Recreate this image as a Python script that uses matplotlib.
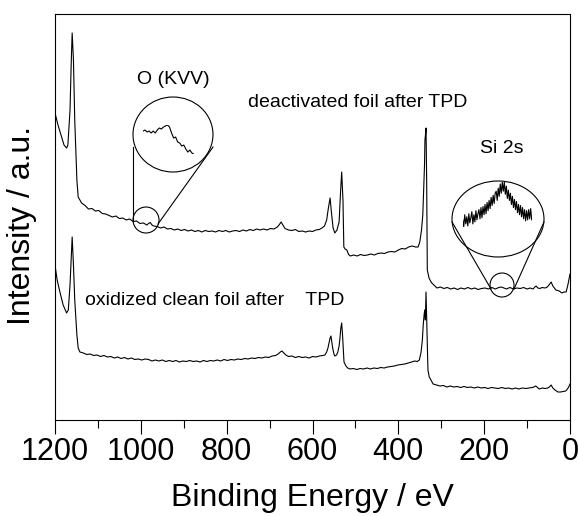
import matplotlib
matplotlib.use('Agg')
import matplotlib.pyplot as plt
from matplotlib.patches import Ellipse
from matplotlib.lines import Line2D
from matplotlib.ticker import MultipleLocator

plt.rcParams['font.family'] = ['Liberation Sans', 'DejaVu Sans']

# ---------------- data (binding energy / eV, intensity / a.u.) ----------------
# deactivated foil after TPD
upper_ev = [1200, 1193, 1184, 1179, 1173, 1170, 1165, 1162, 1160, 1157, 1154, 1149, 1146,
            1138, 1130, 1122, 1114, 1106, 1098, 1090, 1082, 1074, 1066, 1058, 1050, 1042,
            1034, 1026, 1018, 1010, 1002, 994, 986, 982, 978, 974, 970, 962, 954, 946, 938,
            930, 922, 914, 906, 898, 890, 882, 874, 866, 858, 850, 842, 834, 826, 818, 810,
            802, 794, 786, 778, 770, 762, 754, 746, 738, 730, 722, 714, 706, 698, 690,
            682, 678, 673, 669, 664, 656, 648, 640, 632, 624, 616, 608, 600, 592, 584, 578,
            572, 567, 563, 559, 556, 552, 548, 543, 538, 535, 532, 529, 527, 524, 520, 516,
            512, 504, 496, 488, 480, 472, 464, 456, 448, 440, 432, 424, 416, 408, 400, 392,
            384, 376, 368, 360, 354, 350, 346, 343, 341, 339, 338, 336.5, 335.5, 334, 332.5,
            330, 328.5, 325, 322, 316, 310, 302, 294, 286, 278, 270, 262, 254, 246, 238, 230,
            222, 214, 206, 198, 190, 182, 174, 166, 160, 154, 148, 140, 132, 124, 116, 108,
            100, 93, 86, 82, 79, 75, 70, 65, 58, 53, 49, 44, 40, 33, 25, 19, 14, 9, 5, 0]
upper_int = [307, 295, 282, 275, 272, 275, 310, 360, 387, 360, 300, 240, 223,
             217, 214.5, 211, 211.5, 209, 209.5, 206.5, 206, 204.5, 203, 204, 201.5, 202,
             200, 201, 198.5, 199, 196.5, 197, 195, 196.5, 197.5, 195, 194, 193.5, 192, 193, 191,
             191.5, 190, 191, 189.5, 190.5, 189, 190, 188.5, 189.5, 188, 189.5, 188.5, 189, 188, 189.5, 188.5,
             189.5, 188, 189, 189.5, 188.5, 190, 189, 190.5, 189.5, 191, 190, 191, 190, 191.5, 191,
             193, 195, 198, 195, 191.5, 190, 189.5, 190.5, 188.5, 189, 188, 189, 188.5, 190, 190.5, 192,
             194, 200, 212, 222, 208, 192, 187, 190, 198, 225, 248, 220, 173, 171, 170, 165.5,
             164, 165, 164, 165.5, 164.5, 165, 166, 165, 166.5, 167, 166.5, 168, 168.5, 168, 170, 171.5,
             171, 173, 174, 173, 173, 178, 190, 205, 230, 255, 280, 286, 292, 240, 150,
             145, 142, 139, 137, 134.5, 132, 133, 131.5, 132.5, 131, 132, 130.5, 132, 131, 132.5, 131,
             132, 130.5, 131.5, 132, 131, 132.5, 131, 132.5, 133, 132, 131, 132.5, 131, 132, 131.5, 132.5,
             131, 132, 131, 133, 134, 132, 131.5, 132.5, 132, 133, 135, 138, 134, 130, 129, 127, 128, 128, 135, 146]

# oxidized clean foil after TPD
lower_ev = [1200, 1195, 1188, 1181, 1173, 1169, 1165, 1162, 1160, 1157, 1154, 1149, 1146,
            1142, 1134, 1126, 1118, 1110, 1102, 1094, 1086, 1078, 1070, 1062, 1054, 1046, 1038,
            1030, 1022, 1014, 1006, 998, 990, 982, 974, 966, 958, 950, 942, 934, 926, 918, 910,
            902, 894, 886, 878, 870, 862, 854, 846, 838, 830, 822, 814, 806, 798, 790, 782,
            774, 766, 758, 750, 742, 734, 726, 718, 710, 702, 694, 686, 680, 675, 671, 667,
            662, 656, 648, 640, 632, 624, 616, 608, 600, 592, 584, 576, 571, 567, 564, 561,
            559, 557, 555, 553, 550, 548, 544, 541, 538, 536, 534, 532, 530, 528, 526.6, 522,
            518, 513, 505, 497, 489, 481, 473, 465, 457, 449, 441, 433, 425, 417, 409, 401,
            393, 385, 377, 369, 362, 356, 351, 347, 344, 342, 340, 338.5, 337, 335.5, 334, 333,
            331, 328, 324, 319, 311, 303, 295, 287, 279, 271, 263, 255, 247, 239, 231, 223,
            215, 207, 199, 191, 183, 175, 167, 159, 151, 143, 135, 127, 119, 111, 103, 95,
            88, 84, 80, 77, 72, 64, 58, 52, 48, 44, 40, 35, 28, 22, 16, 10, 6, 3, 0]
lower_int = [155, 140, 127, 115, 107, 110, 135, 165, 183, 155, 120, 85, 72,
             68, 67, 65.5, 66, 64.5, 65, 63.5, 64.5, 63, 63.5, 62, 63, 61.5, 62.5,
             61, 62, 60.5, 61, 60, 61, 60.5, 59, 60, 59, 60, 58.5, 59.5, 58.5, 59.5, 58,
             59, 58.5, 59.5, 58.5, 59, 58, 59.5, 58.5, 59.5, 59, 60, 59, 60.5, 59.5, 60.5, 60,
             61, 60.5, 61.5, 61, 62, 61.5, 62.5, 62, 63, 62.5, 64, 64.5, 66, 68, 69, 67,
             65, 63.5, 64, 62.5, 63.5, 62.5, 63, 62, 63.5, 63, 64, 64.5, 65, 68, 72, 78,
             82, 84, 78, 72, 66, 64, 65, 68, 74, 82, 92, 97, 85, 68, 58, 54,
             52, 51, 51.5, 50.5, 51.5, 51, 52, 51, 52, 51.5, 52.5, 52, 53, 53.5, 54, 55,
             55.5, 56, 57, 58, 59, 58.5, 60, 68, 80, 95, 105, 110, 100, 128, 100, 85,
             50, 43, 40, 36, 35, 34, 34.5, 33, 34, 33, 33.5, 32.5, 33.5, 32.5, 33, 32,
             33, 32, 32.5, 31.5, 32.5, 32, 31.5, 32.5, 31.5, 32, 31, 32, 31, 32, 31.5, 32,
             32.5, 33, 34, 33, 31, 32, 31.5, 32, 33, 35, 32, 30, 28, 28, 28.5, 29, 31, 33, 36]

# magnified O (KVV) region of the deactivated foil
okvv_ev = [990, 989, 988, 987, 986, 985, 984, 983, 982, 981, 980, 979, 978,
           977, 976, 975, 974, 973, 972, 971, 970, 969, 968, 967, 966, 965]
okvv_int = [29, 30, 28, 29, 27, 29, 27, 30, 32, 31, 33, 34, 35,
            33, 27, 22, 23, 18, 17, 14, 15, 11, 8, 10, 7, 6]

# magnified Si 2s region of the deactivated foil
si_ev = [170.0, 169.5, 169.0, 168.5, 168.0, 167.5, 167.0, 166.5, 166.0, 165.5, 165.0, 164.5,
         164.0, 163.5, 163.0, 162.5, 162.0, 161.5, 161.0, 160.5, 160.0, 159.5, 159.0, 158.5,
         158.0, 157.5, 157.0, 156.5, 156.0, 155.5, 155.0, 154.5, 154.0, 153.5, 153.0, 152.5,
         152.0, 151.5, 151.0, 150.5, 150.0, 149.5, 149.0, 148.5, 148.0, 147.5, 147.0, 146.5,
         146.0, 145.5, 145.0, 144.5, 144.0, 143.5, 143.0, 142.5, 142.0, 141.5, 141.0, 140.5,
         140.0, 139.5, 139.0, 138.5, 138.0, 137.5, 137.0, 136.5, 136.0]
si_int = [12, 5, 17, 8, 15, 6, 18, 9, 14, 20, 8, 17, 10, 21, 12, 18, 22, 13,
          24, 14, 25, 17, 27, 18, 29, 21, 31, 23,
          34, 26, 36, 28, 38,
          40, 31, 43, 35, 47, 38, 49,
          40, 49, 37, 45, 33,
          41, 31, 38, 27, 35, 24, 32,
          22, 30, 19, 27, 17,
          26, 15, 24, 13, 22,
          11, 21, 12, 22, 13, 23, 12]

tick_labels = ['1200', '1000', '800', '600', '400', '200', '0']
tick_values = [1200, 1000, 800, 600, 400, 200, 0]

# ---------------- figure ----------------
W, H = 579, 516
fig = plt.figure(figsize=(W / 100, H / 100), dpi=100)
L, R, T, B = 55, 570, 14, 420
ax = fig.add_axes([L / W, 1 - B / H, (R - L) / W, (B - T) / H])

ax.plot(upper_ev, upper_int, color='black', lw=0.8)
ax.plot(lower_ev, lower_int, color='black', lw=0.8)
ax.set_xlim(1200, 0)
ax.set_ylim(0, 406)
ax.set_xticks(tick_values)
ax.set_xticklabels(tick_labels)
ax.xaxis.set_minor_locator(MultipleLocator(100))
ax.tick_params(axis='x', which='major', direction='out', length=10, width=0.8,
               labelsize=22, pad=2)
ax.tick_params(axis='x', which='minor', direction='out', length=6, width=0.8)
ax.set_yticks([])
for s in ax.spines.values():
    s.set_linewidth(0.8)

ax.set_xlabel('Binding Energy / eV', fontsize=23)
ax.xaxis.set_label_coords(0.5, -0.155)
ax.set_ylabel('Intensity / a.u.', fontsize=23)
ax.yaxis.set_label_coords(-0.035, 0.48)

# annotations
ax.text(0.2291, 0.8276, 'O (KVV)', transform=ax.transAxes, fontsize=14,
        ha='center', va='baseline')
ax.text(0.3748, 0.7709, 'deactivated foil after TPD', transform=ax.transAxes,
        fontsize=14, ha='left', va='baseline')
ax.text(0.868, 0.6576, 'Si 2s', transform=ax.transAxes, fontsize=14,
        ha='center', va='baseline')
ax.text(0.0583, 0.2833, 'oxidized clean foil after    TPD', transform=ax.transAxes,
        fontsize=14, ha='left', va='baseline')

ell_kw = dict(transform=ax.transAxes, fill=False, edgecolor='black', lw=0.8)
ax.add_patch(Ellipse((0.2291, 0.7032), 0.1553, 0.1847, **ell_kw))
ax.add_patch(Ellipse((0.8602, 0.4951), 0.1786, 0.1872, **ell_kw))
ax.add_patch(Ellipse((0.1767, 0.4926), 0.0505, 0.0640, **ell_kw))
ax.add_patch(Ellipse((0.8680, 0.3325), 0.0466, 0.0591, **ell_kw))

for (x0, y0), (x1, y1) in [((0.1515, 0.6724), (0.1515, 0.4901)),
                           ((0.3068, 0.6724), (0.2000, 0.4828)),
                           ((0.7709, 0.4877), (0.8466, 0.3227)),
                           ((0.9495, 0.4877), (0.8913, 0.3227))]:
    ax.add_line(Line2D([x0, x1], [y0, y1], transform=ax.transAxes, color='black', lw=0.8))

# magnified insets
ins_o = ax.inset_axes([0.1709, 0.655, 0.099, 0.0716])
ins_o.plot(okvv_ev, okvv_int, color='black', lw=0.8)
ins_o.set_xlim(max(okvv_ev), min(okvv_ev))
ins_o.set_ylim(min(okvv_int), max(okvv_int))
ins_o.axis('off')

ins_si = ax.inset_axes([0.7917, 0.4754, 0.1339, 0.1108])
ins_si.plot(si_ev, si_int, color='black', lw=0.8)
ins_si.set_xlim(max(si_ev), min(si_ev))
ins_si.set_ylim(min(si_int), max(si_int))
ins_si.axis('off')

fig.savefig('out.png', dpi=100)
